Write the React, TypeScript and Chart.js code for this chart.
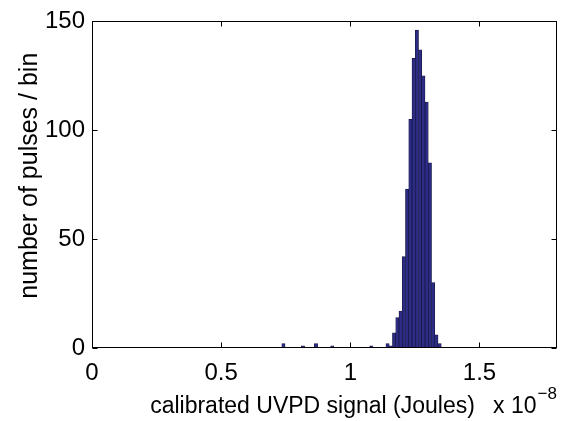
import React, { useEffect, useRef } from 'react';
import { Chart, registerables } from 'chart.js';
Chart.register(...registerables);

// Histogram bin centres (units of 1e-8 J) and counts per bin
const binCenters = [0.741, 0.8166, 0.867, 0.930, 1.0812, 1.1442, 1.1568, 1.1694, 1.182, 1.1946, 1.2072, 1.2198, 1.2324, 1.245, 1.2576, 1.2702, 1.2828, 1.2954, 1.308, 1.3206, 1.3332, 1.3458];
const counts = [2, 1, 2, 1, 1, 2, 1, 7, 14, 17, 42, 73, 105, 133, 146, 137, 125, 113, 85, 30, 6, 2];

const xTicks = [0, 0.5, 1, 1.5];
const yTicks = [0, 50, 100, 150];
const xRange = [0, 1.8];
const yRange = [0, 150];

const xTitle = 'calibrated UVPD signal (Joules)';
const yTitle = 'number of pulses / bin';
const expBase = 'x 10';
const expPower = '\u22128';

const FONT = '"Liberation Sans", Arial, Helvetica, sans-serif';

const framePlugin = {
  id: 'matlabFrame',
  afterDatasetsDraw(chart: any) {
    const { ctx, chartArea: a, scales } = chart;
    ctx.save();
    ctx.strokeStyle = '#000';
    ctx.lineWidth = 1;
    const L = Math.round(a.left) + 0.5;
    const R = Math.round(a.right) - 0.5;
    const T = Math.round(a.top) + 0.5;
    const B = Math.round(a.bottom) - 0.5;
    ctx.strokeRect(L, T, R - L, B - T);
    const tl = 5;
    ctx.beginPath();
    scales.x.ticks.forEach((t: any) => {
      const px = Math.round(scales.x.getPixelForValue(t.value)) + 0.5;
      ctx.moveTo(px, B); ctx.lineTo(px, B - tl);
      ctx.moveTo(px, T); ctx.lineTo(px, T + tl);
    });
    scales.y.ticks.forEach((t: any) => {
      const py = Math.round(scales.y.getPixelForValue(t.value)) + 0.5;
      ctx.moveTo(L, py); ctx.lineTo(L + tl, py);
      ctx.moveTo(R, py); ctx.lineTo(R - tl, py);
    });
    ctx.stroke();

    ctx.fillStyle = '#000';
    // x-axis title
    ctx.textAlign = 'center';
    ctx.textBaseline = 'alphabetic';
    ctx.font = `23px ${FONT}`;
    ctx.fillText(xTitle, (a.left + a.right) / 2 - 12, chart.height - 8);

    // axis exponent label
    ctx.textAlign = 'left';
    ctx.font = `23px ${FONT}`;
    const baseY = chart.height - 8;
    const w = ctx.measureText(expBase).width;
    const sx = a.right - 64;
    ctx.fillText(expBase, sx, baseY);
    ctx.font = `17px ${FONT}`;
    ctx.fillText(expPower, sx + w + 1, baseY - 14);

    // y-axis title
    ctx.save();
    ctx.translate(30, (a.top + a.bottom) / 2 - 9);
    ctx.rotate(-Math.PI / 2);
    ctx.textAlign = 'center';
    ctx.textBaseline = 'middle';
    ctx.font = `25px ${FONT}`;
    ctx.fillText(yTitle, 0, 0);
    ctx.restore();

    ctx.restore();
  },
};

export default function App() {
  const ref = useRef<HTMLCanvasElement | null>(null);
  useEffect(() => {
    document.body.style.margin = '0';
    if (!ref.current) return;
    const chart = new Chart(ref.current, {
      type: 'bar',
      data: {
        datasets: [
          {
            data: binCenters.map((x, i) => ({ x, y: counts[i] })),
            backgroundColor: '#2c2c86',
            borderColor: '#15153c',
            borderWidth: 0.7,
            barPercentage: 1,
            categoryPercentage: 1,
          },
        ],
      },
      options: {
        responsive: false,
        animation: false,
        layout: { padding: { left: 0, right: 28, top: 19, bottom: 0 } },
        plugins: { legend: { display: false }, tooltip: { enabled: false } },
        scales: {
          x: {
            type: 'linear',
            min: xRange[0],
            max: xRange[1],
            offset: false,
            grid: { display: false, drawTicks: false },
            border: { display: false },
            afterBuildTicks: (s: any) => { s.ticks = xTicks.map((v) => ({ value: v })); },
            afterFit: (s: any) => { s.height = 73; },
            ticks: {
              color: '#000',
              font: { family: FONT, size: 24 },
              padding: 11,
              maxRotation: 0,
              callback: (v: any) => String(v),
            },
            title: { display: false, text: xTitle },
          },
          y: {
            type: 'linear',
            min: yRange[0],
            max: yRange[1],
            grid: { display: false, drawTicks: false },
            border: { display: false },
            afterBuildTicks: (s: any) => { s.ticks = yTicks.map((v) => ({ value: v })); },
            afterFit: (s: any) => { s.width = 92; },
            ticks: {
              color: '#000',
              font: { family: FONT, size: 24 },
              padding: 7,
              callback: (v: any) => String(v),
            },
            title: { display: false, text: yTitle },
          },
        },
      },
      plugins: [framePlugin],
    });
    return () => chart.destroy();
  }, []);
  return (
    <div style={{ width: 585, height: 421 }}>
      <canvas ref={ref} width={585} height={421} />
    </div>
  );
}
